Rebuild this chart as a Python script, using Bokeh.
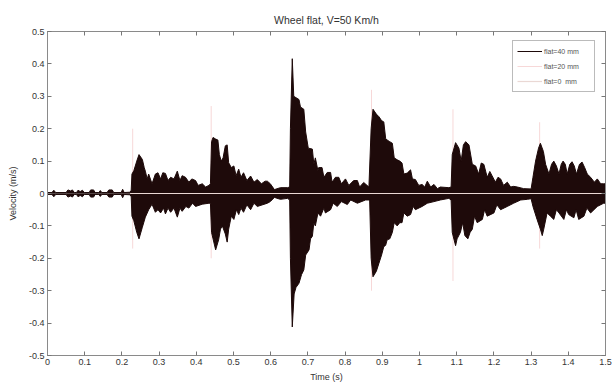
from bokeh.plotting import figure
from bokeh.models import Range1d, LinearAxis, FixedTicker, Legend, LegendItem
from bokeh.embed import file_html
from bokeh.resources import INLINE

# ---- data ----
title_text = "Wheel flat, V=50 Km/h"
x_label = "Time (s)"
y_label = "Velocity (m/s)"
series_names = ["flat=40 mm", "flat=20 mm", "flat=0  mm"]

x_ticks = [0, 0.1, 0.2, 0.3, 0.4, 0.5, 0.6, 0.7, 0.8, 0.9, 1, 1.1, 1.2, 1.3, 1.4, 1.5]
x_tick_labels = ["0", "0.1", "0.2", "0.3", "0.4", "0.5", "0.6", "0.7", "0.8", "0.9",
                 "1", "1.1", "1.2", "1.3", "1.4", "1.5"]
y_ticks = [-0.5, -0.4, -0.3, -0.2, -0.1, 0, 0.1, 0.2, 0.3, 0.4, 0.5]
y_tick_labels = ["-0.5", "-0.4", "-0.3", "-0.2", "-0.1", "0", "0.1", "0.2", "0.3", "0.4", "0.5"]

# flat=40 mm : upper peaks of the velocity signal
t40_up = [0.000, 0.012, 0.017, 0.022, 0.050, 0.055, 0.062, 0.067, 0.072, 0.078,
          0.082, 0.088, 0.094, 0.099, 0.112, 0.116, 0.124, 0.128, 0.138, 0.142,
          0.146, 0.160, 0.165, 0.174, 0.178, 0.198, 0.202, 0.206, 0.222, 0.225,
          0.227, 0.232, 0.240, 0.246, 0.255, 0.260, 0.263, 0.268, 0.272, 0.281,
          0.290, 0.297, 0.304, 0.310, 0.317, 0.324, 0.331, 0.340, 0.349, 0.356,
          0.362, 0.371, 0.380, 0.388, 0.398, 0.405, 0.416, 0.425, 0.434,
          0.438, 0.441, 0.445, 0.452, 0.458, 0.462, 0.467, 0.472, 0.478, 0.483,
          0.487, 0.494, 0.501, 0.507, 0.514, 0.520, 0.527, 0.536, 0.546, 0.555,
          0.564, 0.575, 0.585, 0.591, 0.599, 0.610, 0.626, 0.645, 0.651,
          0.653, 0.658, 0.662, 0.676, 0.680, 0.689, 0.694, 0.701, 0.712, 0.716,
          0.720, 0.727, 0.729, 0.738, 0.743, 0.752, 0.761, 0.765, 0.774, 0.783,
          0.790, 0.801, 0.810, 0.823, 0.833, 0.839, 0.850, 0.864,
          0.870, 0.875, 0.884, 0.891, 0.898, 0.904, 0.909, 0.913, 0.920, 0.927,
          0.932, 0.940, 0.947, 0.953, 0.958, 0.967, 0.976, 0.981, 0.989, 0.998,
          1.007, 1.014, 1.021, 1.030, 1.039, 1.048, 1.056, 1.079,
          1.085, 1.088, 1.097, 1.106, 1.112, 1.118, 1.124, 1.133, 1.142, 1.151,
          1.159, 1.166, 1.173, 1.182, 1.189, 1.195, 1.204, 1.211, 1.218, 1.226,
          1.236, 1.245, 1.253, 1.263, 1.280, 1.300,
          1.305, 1.312, 1.320, 1.325, 1.333, 1.339, 1.348, 1.355, 1.361, 1.368,
          1.375, 1.381, 1.386, 1.392, 1.397, 1.404, 1.410, 1.416, 1.422, 1.430,
          1.437, 1.444, 1.451, 1.460, 1.470, 1.478, 1.487, 1.495, 1.500]
v40_up = [0.003, 0.003, 0.010, 0.003, 0.003, 0.011, 0.008, 0.011, 0.003, 0.003,
          0.010, 0.006, 0.010, 0.003, 0.003, 0.011, 0.011, 0.003, 0.003, 0.009,
          0.003, 0.003, 0.011, 0.011, 0.003, 0.003, 0.013, 0.003, 0.004, 0.010,
          0.060, 0.070, 0.100, 0.120, 0.105, 0.080, 0.069, 0.045, 0.060, 0.030,
          0.060, 0.064, 0.045, 0.064, 0.062, 0.040, 0.050, 0.045, 0.069, 0.040,
          0.055, 0.050, 0.035, 0.045, 0.040, 0.025, 0.030, 0.020, 0.025,
          0.030, 0.160, 0.173, 0.168, 0.165, 0.120, 0.100, 0.110, 0.147, 0.150,
          0.095, 0.080, 0.085, 0.055, 0.075, 0.050, 0.064, 0.040, 0.054, 0.035,
          0.043, 0.030, 0.038, 0.038, 0.030, 0.012, 0.018, 0.018, 0.020,
          0.200, 0.416, 0.300, 0.290, 0.267, 0.260, 0.190, 0.140, 0.137, 0.090,
          0.110, 0.070, 0.080, 0.080, 0.050, 0.065, 0.065, 0.035, 0.050, 0.050,
          0.030, 0.045, 0.025, 0.040, 0.040, 0.020, 0.034, 0.020,
          0.200, 0.260, 0.245, 0.237, 0.225, 0.221, 0.170, 0.165, 0.160, 0.155,
          0.110, 0.104, 0.100, 0.094, 0.060, 0.063, 0.073, 0.045, 0.043, 0.025,
          0.028, 0.020, 0.038, 0.020, 0.028, 0.015, 0.020, 0.018,
          0.020, 0.120, 0.157, 0.140, 0.100, 0.150, 0.160, 0.150, 0.090, 0.085,
          0.060, 0.094, 0.090, 0.050, 0.068, 0.055, 0.035, 0.050, 0.045, 0.025,
          0.035, 0.020, 0.022, 0.020, 0.015, 0.014,
          0.050, 0.100, 0.140, 0.155, 0.130, 0.090, 0.060, 0.090, 0.100, 0.085,
          0.060, 0.090, 0.100, 0.090, 0.060, 0.090, 0.098, 0.085, 0.060, 0.090,
          0.097, 0.080, 0.060, 0.050, 0.035, 0.045, 0.030, 0.030, 0.030]

# flat=40 mm : lower peaks of the velocity signal
t40_lo = [0.000, 0.012, 0.017, 0.022, 0.050, 0.055, 0.062, 0.067, 0.072, 0.078,
          0.082, 0.088, 0.094, 0.099, 0.112, 0.116, 0.124, 0.128, 0.138, 0.142,
          0.146, 0.160, 0.165, 0.174, 0.178, 0.198, 0.202, 0.206, 0.222, 0.225,
          0.227, 0.232, 0.240, 0.246, 0.255, 0.263, 0.272, 0.281, 0.290, 0.297,
          0.304, 0.312, 0.317, 0.324, 0.331, 0.340, 0.349, 0.356, 0.362, 0.372,
          0.380, 0.390, 0.398, 0.416, 0.434,
          0.438, 0.441, 0.445, 0.452, 0.460, 0.465, 0.470, 0.478, 0.483, 0.487,
          0.494, 0.501, 0.508, 0.514, 0.520, 0.527, 0.536, 0.546, 0.555, 0.564,
          0.591, 0.599, 0.610, 0.626, 0.645, 0.651,
          0.653, 0.658, 0.663, 0.668, 0.676, 0.683, 0.689, 0.694, 0.703, 0.707,
          0.712, 0.716, 0.720, 0.727, 0.734, 0.743, 0.747, 0.761, 0.768, 0.779,
          0.790, 0.806, 0.815, 0.833, 0.855, 0.866,
          0.870, 0.875, 0.884, 0.891, 0.898, 0.904, 0.909, 0.913, 0.920, 0.927,
          0.932, 0.940, 0.947, 0.953, 0.958, 0.967, 0.976, 0.983, 0.989, 1.007,
          1.021, 1.039, 1.056, 1.079,
          1.085, 1.088, 1.097, 1.101, 1.110, 1.116, 1.122, 1.130, 1.136, 1.142,
          1.148, 1.155, 1.169, 1.175, 1.182, 1.200, 1.208, 1.218, 1.236, 1.253,
          1.272, 1.290, 1.300,
          1.305, 1.316, 1.325, 1.330, 1.334, 1.343, 1.352, 1.361, 1.368, 1.375,
          1.388, 1.395, 1.401, 1.415, 1.421, 1.428, 1.442, 1.450, 1.460, 1.478,
          1.495, 1.500]
v40_lo = [-0.003, -0.003, -0.010, -0.003, -0.003, -0.011, -0.008, -0.011, -0.003, -0.003,
          -0.010, -0.006, -0.010, -0.003, -0.003, -0.011, -0.011, -0.003, -0.003, -0.009,
          -0.003, -0.003, -0.011, -0.011, -0.003, -0.003, -0.013, -0.003, -0.004, -0.010,
          -0.070, -0.084, -0.120, -0.140, -0.104, -0.073, -0.050, -0.033, -0.058, -0.050,
          -0.060, -0.045, -0.063, -0.045, -0.058, -0.045, -0.073, -0.045, -0.055, -0.040,
          -0.045, -0.030, -0.040, -0.033, -0.030,
          -0.030, -0.120, -0.140, -0.174, -0.143, -0.110, -0.100, -0.125, -0.150, -0.110,
          -0.070, -0.080, -0.050, -0.065, -0.045, -0.058, -0.035, -0.050, -0.030, -0.040,
          -0.030, -0.025, -0.012, -0.018, -0.015, -0.020,
          -0.200, -0.412, -0.310, -0.290, -0.277, -0.250, -0.236, -0.190, -0.174, -0.140,
          -0.132, -0.090, -0.100, -0.060, -0.070, -0.045, -0.060, -0.050, -0.030, -0.040,
          -0.025, -0.034, -0.020, -0.030, -0.020, -0.020,
          -0.200, -0.257, -0.240, -0.215, -0.190, -0.164, -0.160, -0.143, -0.140, -0.120,
          -0.090, -0.100, -0.090, -0.090, -0.060, -0.070, -0.065, -0.040, -0.050, -0.040,
          -0.030, -0.025, -0.020, -0.015,
          -0.020, -0.120, -0.161, -0.140, -0.120, -0.090, -0.130, -0.140, -0.120, -0.110,
          -0.070, -0.090, -0.080, -0.050, -0.070, -0.060, -0.035, -0.050, -0.040, -0.030,
          -0.020, -0.018, -0.016,
          -0.040, -0.080, -0.110, -0.130, -0.110, -0.060, -0.070, -0.080, -0.050, -0.060,
          -0.080, -0.050, -0.065, -0.075, -0.050, -0.080, -0.070, -0.045, -0.060, -0.040,
          -0.030, -0.030]

# flat=20 mm : faint impact spikes (time, upper, lower)
t20 = [0.229, 0.440, 0.656, 0.871, 1.090, 1.323]
v20_upper = [0.20, 0.27, 0.36, 0.32, 0.26, 0.22]
v20_lower = [-0.17, -0.20, -0.34, -0.30, -0.27, -0.17]

# flat=0 mm : near-zero trace
t0 = [0.222, 1.500]
v0 = [0.0, 0.0]

# ---- figure ----
p = figure(width=616, height=385, output_backend="svg", toolbar_location=None,
           x_range=Range1d(0, 1.5), y_range=Range1d(-0.5, 0.5),
           min_border_left=47, min_border_right=11, min_border_top=31, min_border_bottom=30,
           background_fill_color="white", border_fill_color="white")
p.grid.visible = False
p.outline_line_color = "#8a8a8a"

p.title.text = title_text
p.title.align = "center"
p.title.text_font = "Liberation Sans"
p.title.text_font_size = "10.5px"
p.title.text_font_style = "normal"
p.title.text_color = "#333333"
p.title.standoff = 12

dark = "#1e0a0a"
r20 = p.segment(x0=t20, y0=v20_lower, x1=t20, y1=v20_upper,
                line_color="#f7d8d8", line_width=1)
p.varea(x=t40_up, y1=0, y2=v40_up, fill_color=dark)
p.varea(x=t40_lo, y1=v40_lo, y2=0, fill_color=dark)
r40 = p.line(t40_up, v40_up, line_color=dark, line_width=1)
p.line(t40_lo, v40_lo, line_color=dark, line_width=1)
r0 = p.line(t0, v0, line_color="#ead8d4", line_width=1.2)

def style_axis(ax, ticks, labels, show_labels=True):
    ax.ticker = FixedTicker(ticks=ticks)
    ax.major_tick_in = 4
    ax.major_tick_out = 0
    ax.minor_tick_line_color = None
    ax.axis_line_color = "#8a8a8a"
    ax.major_tick_line_color = "#777777"
    if show_labels:
        ax.major_label_overrides = {t: l for t, l in zip(ticks, labels)}
        ax.major_label_text_font = "Liberation Sans"
        ax.major_label_text_color = "#333333"
        ax.major_label_text_font_size = "9px"
        ax.major_label_standoff = 3
    else:
        ax.major_label_text_color = None
        ax.major_label_text_font_size = "0px"
        ax.major_label_standoff = 0

style_axis(p.xaxis[0], x_ticks, x_tick_labels)
style_axis(p.yaxis[0], y_ticks, y_tick_labels)
p.xaxis[0].axis_label = x_label
p.yaxis[0].axis_label = y_label
for ax in (p.xaxis[0], p.yaxis[0]):
    ax.axis_label_text_font = "Liberation Sans"
    ax.axis_label_text_font_size = "9px"
    ax.axis_label_text_font_style = "normal"
    ax.axis_label_text_color = "#333333"
p.xaxis[0].axis_label_standoff = 4
p.yaxis[0].axis_label_standoff = 8

top_ax = LinearAxis()
right_ax = LinearAxis()
style_axis(top_ax, x_ticks, x_tick_labels, show_labels=False)
style_axis(right_ax, y_ticks, y_tick_labels, show_labels=False)
p.add_layout(top_ax, "above")
p.add_layout(right_ax, "right")

legend = Legend(items=[LegendItem(label=series_names[0], renderers=[r40]),
                       LegendItem(label=series_names[1], renderers=[r20]),
                       LegendItem(label=series_names[2], renderers=[r0])],
                location=(465, 263))
legend.label_text_font = "Liberation Sans"
legend.label_text_font_size = "7px"
legend.label_text_color = "#555555"
legend.glyph_width = 25
legend.glyph_height = 12
legend.label_height = 12
legend.label_width = 46
legend.label_standoff = 2
legend.spacing = 3
legend.padding = 4
legend.margin = 0
legend.border_line_color = "#777777"
legend.background_fill_color = "white"
p.add_layout(legend, "center")

open("out.html", "w").write(file_html(p, INLINE))
